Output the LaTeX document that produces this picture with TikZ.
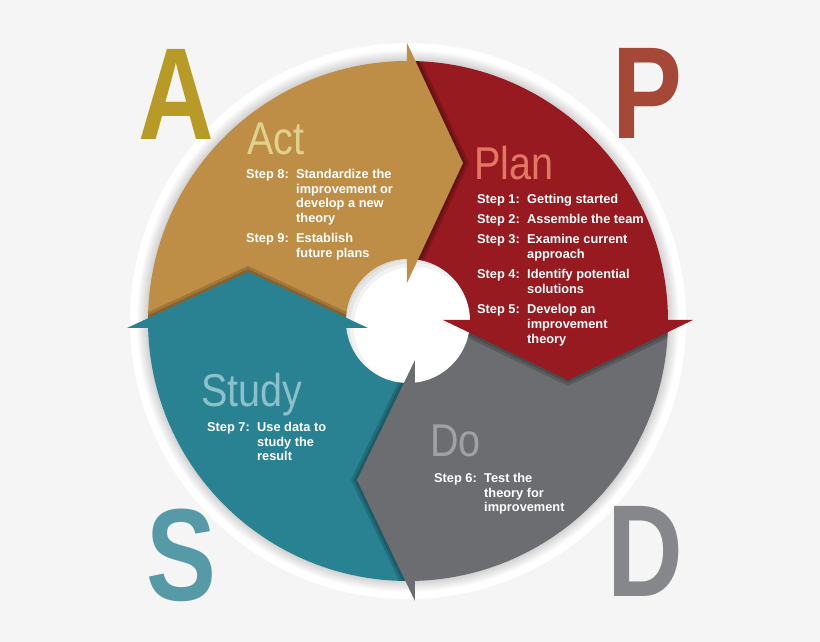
\documentclass[tikz,border=0pt]{standalone}
\usepackage{fontspec}
\setmainfont{Liberation Sans}
\newfontfamily\titlefont[FakeStretch=0.86]{Liberation Sans}
\newfontfamily\letterfont[FakeStretch=0.8]{Liberation Sans}
\usetikzlibrary{positioning}

\definecolor{bgcol}{HTML}{F5F5F5}
\definecolor{actcol}{HTML}{BE8E46}
\definecolor{plancol}{HTML}{961A1F}
\definecolor{docol}{HTML}{6C6D71}
\definecolor{studycol}{HTML}{298292}
\definecolor{actletter}{HTML}{B79B26}
\definecolor{planletter}{HTML}{A64838}
\definecolor{doletter}{HTML}{86878B}
\definecolor{studyletter}{HTML}{569AA8}
\definecolor{acttitle}{HTML}{DED28C}
\definecolor{plantitle}{HTML}{E27864}
\definecolor{dotitle}{HTML}{A0A1A5}
\definecolor{studytitle}{HTML}{8CC0CA}

\begin{document}
\begin{tikzpicture}[x=1pt,y=1pt,
  title/.style={font=\titlefont\fontsize{46}{46}\selectfont, inner sep=0pt, anchor=base west},
  letter/.style={font=\letterfont\bfseries\fontsize{131}{131}\selectfont, inner sep=0pt, anchor=base},
  steps/.style={font=\bfseries\fontsize{12.8}{14.7}\selectfont, text=white, inner sep=0pt, anchor=base west},
  headshadow/.style={fill=black, opacity=.16}]
  % Background and halo
  \useasboundingbox (-408,-321) rectangle (412,321);
  \fill[bgcol] (-408,-321) rectangle (412,321);
  \fill[white] (0,0) circle (278);
  \foreach \r in {261,...,271}
    \fill[black, opacity=.014] (0,0) circle (\r);
  % Quarters
  \fill[plancol] (0,0) -- (0:260) arc[start angle=0, end angle=90, radius=260] -- cycle;
  \fill[actcol] (0,0) -- (90:260) arc[start angle=90, end angle=180, radius=260] -- cycle;
  \fill[studycol] (0,0) -- (180:260) arc[start angle=180, end angle=270, radius=260] -- cycle;
  \fill[docol] (0,0) -- (270:260) arc[start angle=270, end angle=360, radius=260] -- cycle;
  % Hole
  \fill[white] (0,0) circle (62);
  \begin{scope}
    \clip (0,0) circle (62);
    \foreach \r/\w in {75/30, 77/26, 79/22}
      \draw[black, opacity=.05, line width=\w] (6,-6) circle (\r);
  \end{scope}
  % Head shadows
  \begin{scope}[even odd rule]
    \clip (0,0) circle (260) (0,0) circle (62);
    \foreach \s in {3,6} {
      \fill[headshadow, xshift=\s] (-1,38) -- (55,158) -- (-1,278) -- cycle;
      \fill[headshadow, yshift=-\s] (35,1) -- (160,-59) -- (285,1) -- cycle;
      \fill[headshadow, xshift=-\s] (7,-39) -- (-51,-159) -- (7,-280) -- cycle;
      \fill[headshadow, yshift=\s] (-281,-7) -- (-160,49) -- (-40,-7) -- cycle;
    }
  \end{scope}
  % Heads
  \fill[actcol] (-1,38) -- (55,158) -- (-1,278) -- cycle;
  \fill[plancol] (35,1) -- (160,-59) -- (285,1) -- cycle;
  \fill[docol] (7,-39) -- (-51,-159) -- (7,-280) -- cycle;
  \fill[studycol] (-281,-7) -- (-160,49) -- (-40,-7) -- cycle;
  % Letters
  \node[letter, text=actletter] (A) at (-232,181) {A};
  \node[letter, text=planletter] (P) at (239,182) {P};
  \node[letter, text=studyletter] (S) at (-227,-279) {S};
  \node[letter, text=doletter] (D) at (237,-276) {D};
  % Titles
  \node[title, text=acttitle] (act) at (-161,166) {Act};
  \node[title, text=plantitle] (plan) at (66,141) {Plan};
  \node[title, text=studytitle] (study) at (-207,-86) {Study};
  \node[title, text=dotitle] (do) at (22,-136) {Do};
  % Steps
  \node[steps] (actsteps) at (-162,142.5) {\begin{tabular}[t]{@{}p{50pt}@{}l@{}}
    Step 8: & Standardize the\\
            & improvement or\\
            & develop a new\\
            & theory\\[5.5pt]
    Step 9: & Establish\\
            & future plans
  \end{tabular}};
  \node[steps] (plansteps) at (69,117.5) {\begin{tabular}[t]{@{}p{50pt}@{}l@{}}
    Step 1: & Getting started\\[5.5pt]
    Step 2: & Assemble the team\\[5.5pt]
    Step 3: & Examine current\\
            & approach\\[5.5pt]
    Step 4: & Identify potential\\
            & solutions\\[5.5pt]
    Step 5: & Develop an\\
            & improvement\\
            & theory
  \end{tabular}};
  \node[steps] (studysteps) at (-201,-110.5) {\begin{tabular}[t]{@{}p{50pt}@{}l@{}}
    Step 7: & Use data to\\
            & study the\\
            & result
  \end{tabular}};
  \node[steps] (dosteps) at (26,-161.5) {\begin{tabular}[t]{@{}p{50pt}@{}l@{}}
    Step 6: & Test the\\
            & theory for\\
            & improvement
  \end{tabular}};
\end{tikzpicture}
\end{document}
